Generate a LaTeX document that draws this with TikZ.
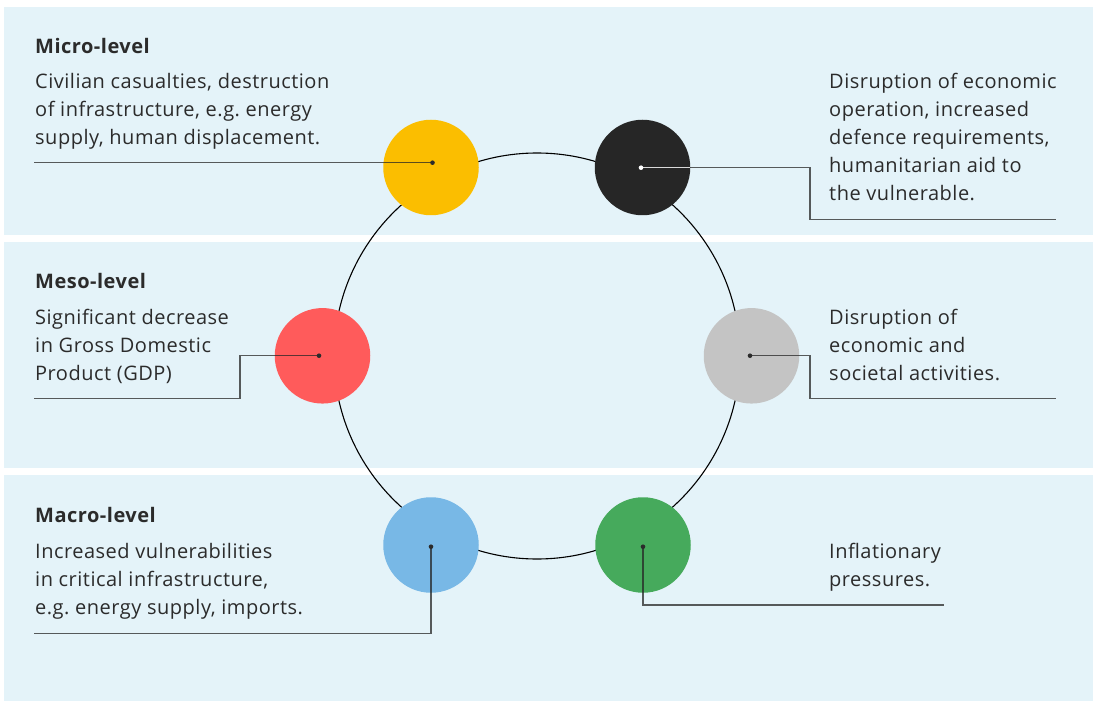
\documentclass[tikz,border=0pt]{standalone}
\usepackage{fontspec}
\setmainfont{Open Sans}[LetterSpace=2.5]
\definecolor{band}{HTML}{E4F3F9}
\definecolor{ink}{HTML}{2B2B2B}
\definecolor{cyellow}{HTML}{FBBE00}
\definecolor{cblack}{HTML}{262626}
\definecolor{cred}{HTML}{FF5B5B}
\definecolor{cgray}{HTML}{C4C4C4}
\definecolor{cblue}{HTML}{78B8E6}
\definecolor{cgreen}{HTML}{46AA5C}
\newcommand{\lines}[1]{\begin{tabular}[t]{@{}l@{}}#1\end{tabular}}
\frenchspacing
\begin{document}
\begin{tikzpicture}[x=1pt,y=-1pt,
  blob/.style={circle,minimum size=95.5pt,inner sep=0pt,draw=none},
  body/.style={anchor=base west,inner sep=0pt,font=\fontsize{20}{28}\selectfont\frenchspacing,text=ink},
  head/.style={anchor=base west,inner sep=0pt,font=\fontsize{20}{28}\selectfont\bfseries,text=ink},
  leaderline/.style={draw=black!85,opacity=0.75,line width=1.3pt},
  ringline/.style={draw=black,line width=1.1pt},
  dotmark/.style={fill=ink},
]
\useasboundingbox (0,0) rectangle (1094,703);
\fill[white] (0,0) rectangle (1094,703);
\fill[band] (4,7) rectangle (1093,235);
\fill[band] (4,242) rectangle (1093,468);
\fill[band] (4,475) rectangle (1093,701);

% ring
\coordinate (ringc) at (537,356);
\draw[ringline] (ringc) circle[radius=203];

% coloured circles
\node[blob,fill=cyellow] (yel) at (431,167.5) {};
\node[blob,fill=cblack] (blk) at (642.5,167.5) {};
\node[blob,fill=cred] (red) at (322.5,355.8) {};
\node[blob,fill=cgray] (gry) at (751.5,355.8) {};
\node[blob,fill=cblue] (blu) at (431,545) {};
\node[blob,fill=cgreen] (grn) at (643,545) {};

% dot positions
\coordinate (dyel) at (432.5,162.7);
\coordinate (dblk) at (641,167.7);
\coordinate (dred) at (319,355.7);
\coordinate (dgry) at (750,355.7);
\coordinate (dblu) at (431,546.7);
\coordinate (dgrn) at (643,546.7);

% leader ends
\coordinate (eyel) at (34,162.7);
\coordinate (eblk) at (1056,219.5);
\coordinate (ered) at (34,398.3);
\coordinate (egry) at (1056,398.3);
\coordinate (eblu) at (34,633.3);
\coordinate (egrn) at (944,605);

% leaders
\draw[leaderline] (dyel) -- (eyel);
\draw[leaderline] (dblk) -- (810,167.7) |- (eblk);
\draw[draw=white!85!black,line width=1.3pt] (dblk) -- (blk.east |- dblk);
\draw[leaderline] (dred) -- (240,355.7) |- (ered);
\draw[leaderline] (dgry) -- (810,355.7) |- (egry);
\draw[leaderline] (dblu) |- (eblu);
\draw[leaderline] (dgrn) |- (egrn);

% dots
\fill[dotmark] (dyel) circle[radius=2.3];
\fill[white] (dblk) circle[radius=2.3];
\fill[dotmark] (dred) circle[radius=2.3];
\fill[dotmark] (dgry) circle[radius=2.3];
\fill[dotmark] (dblu) circle[radius=2.3];
\fill[dotmark] (dgrn) circle[radius=2.3];

% texts
\node[head] (microh) at (35,54) {Micro-level};
\node[body] (microt) at (35,89) {\lines{Civilian casualties, destruction\\of infrastructure, e.g. energy\\supply, human displacement.}};
\node[body] (blkt) at (829,89) {\lines{Disruption of economic\\operation, increased\\defence requirements,\\humanitarian aid to\\the vulnerable.}};

\node[head] (mesoh) at (35,288) {Meso-level};
\node[body] (mesot) at (35,324) {\lines{Significant decrease\\in Gross Domestic\\Product (GDP)}};
\node[body] (gryt) at (829,324) {\lines{Disruption of\\economic and\\societal activities.}};

\node[head] (macroh) at (35,522) {Macro-level};
\node[body] (macrot) at (35,558) {\lines{Increased vulnerabilities\\in critical infrastructure,\\e.g. energy supply, imports.}};
\node[body] (grnt) at (829,558) {\lines{Inflationary\\pressures.}};
\end{tikzpicture}
\end{document}
